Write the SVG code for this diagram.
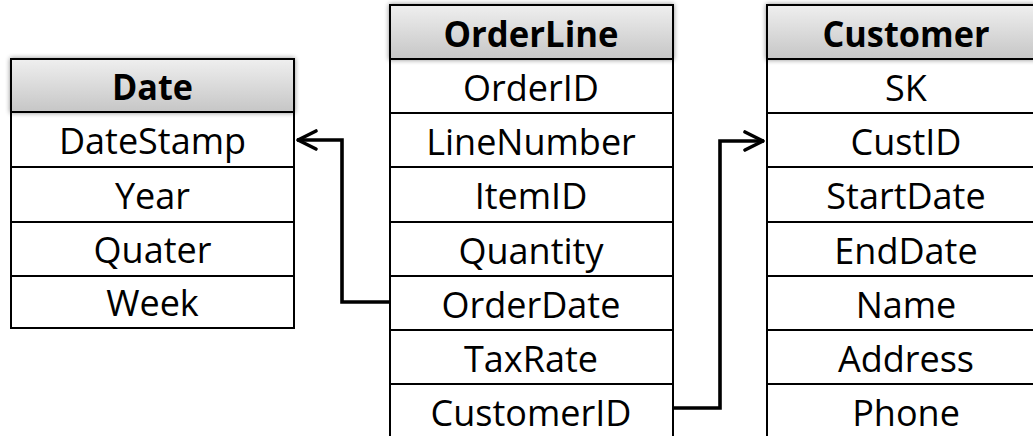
<svg xmlns="http://www.w3.org/2000/svg" width="1033" height="436" viewBox="0 0 1033 436">
  <defs>
    <linearGradient id="hdrFill" x1="0" y1="0" x2="0" y2="1">
      <stop offset="0" stop-color="#efefef"/>
      <stop offset="1" stop-color="#c6c6c6"/>
    </linearGradient>
    <filter id="hdrShadow" x="-10%" y="-20%" width="120%" height="140%">
      <feGaussianBlur in="SourceAlpha" stdDeviation="2.5"/>
      <feComponentTransfer><feFuncA type="linear" slope="0.45"/></feComponentTransfer>
      <feMerge><feMergeNode/><feMergeNode in="SourceGraphic"/></feMerge>
    </filter>
    <marker id="chevron" viewBox="-22 -12 26 24" markerWidth="26" markerHeight="24" refX="1" refY="0" orient="auto" markerUnits="userSpaceOnUse">
      <path d="M -18 -9 L 0 0 L -18 9" fill="none" stroke="#000" stroke-width="3.6" stroke-linecap="round" stroke-linejoin="round"/>
    </marker>
  </defs>
  <style>
    .hdr { fill: url(#hdrFill); stroke: #000; stroke-width: 2; filter: url(#hdrShadow); }
    .body { fill: #fff; stroke: #000; stroke-width: 2; }
    .sep { stroke: #000; stroke-width: 2; }
    .title { font-family: "Open Sans", "DejaVu Sans", sans-serif; font-weight: bold; font-size: 36px; text-anchor: middle; fill: #000; }
    .field { font-family: "Open Sans", "DejaVu Sans", sans-serif; font-size: 36px; text-anchor: middle; fill: #000; }
    .link { fill: none; stroke: #000; stroke-width: 3.6; marker-end: url(#chevron); }
  </style>

  <rect width="1033" height="436" fill="#fff"/>

  <!-- Date dimension -->
  <g id="date">
    <rect class="body" x="11" y="112" width="283" height="216"/>
    <line class="sep" x1="11" y1="167" x2="294" y2="167"/>
    <line class="sep" x1="11" y1="222" x2="294" y2="222"/>
    <line class="sep" x1="11" y1="276" x2="294" y2="276"/>
    <rect class="hdr" x="11" y="59" width="283" height="53"/>
    <text class="title" x="152.5" y="100" textLength="81" lengthAdjust="spacingAndGlyphs">Date</text>
    <text class="field" x="152.5" y="154">DateStamp</text>
    <text class="field" x="152.5" y="209">Year</text>
    <text class="field" x="152.5" y="263">Quater</text>
    <text class="field" x="152.5" y="316">Week</text>
  </g>

  <!-- OrderLine fact -->
  <g id="orderline">
    <rect class="body" x="390" y="59" width="283" height="390"/>
    <line class="sep" x1="390" y1="113" x2="673" y2="113"/>
    <line class="sep" x1="390" y1="167" x2="673" y2="167"/>
    <line class="sep" x1="390" y1="222" x2="673" y2="222"/>
    <line class="sep" x1="390" y1="276" x2="673" y2="276"/>
    <line class="sep" x1="390" y1="330" x2="673" y2="330"/>
    <line class="sep" x1="390" y1="384" x2="673" y2="384"/>
    <rect class="hdr" x="390" y="5" width="283" height="54"/>
    <text class="title" x="531" y="47" textLength="175" lengthAdjust="spacingAndGlyphs">OrderLine</text>
    <text class="field" x="531" y="101">OrderID</text>
    <text class="field" x="531" y="155">LineNumber</text>
    <text class="field" x="531" y="209">ItemID</text>
    <text class="field" x="531" y="264">Quantity</text>
    <text class="field" x="531" y="318">OrderDate</text>
    <text class="field" x="531" y="372">TaxRate</text>
    <text class="field" x="531" y="426">CustomerID</text>
  </g>

  <!-- Customer dimension -->
  <g id="customer">
    <rect class="body" x="767" y="59" width="280" height="390"/>
    <line class="sep" x1="767" y1="113" x2="1047" y2="113"/>
    <line class="sep" x1="767" y1="167" x2="1047" y2="167"/>
    <line class="sep" x1="767" y1="222" x2="1047" y2="222"/>
    <line class="sep" x1="767" y1="276" x2="1047" y2="276"/>
    <line class="sep" x1="767" y1="330" x2="1047" y2="330"/>
    <line class="sep" x1="767" y1="384" x2="1047" y2="384"/>
    <rect class="hdr" x="767" y="5" width="280" height="54"/>
    <text class="title" x="906" y="47" textLength="167" lengthAdjust="spacingAndGlyphs">Customer</text>
    <text class="field" x="906" y="101">SK</text>
    <text class="field" x="906" y="155">CustID</text>
    <text class="field" x="906" y="209">StartDate</text>
    <text class="field" x="906" y="264">EndDate</text>
    <text class="field" x="906" y="318">Name</text>
    <text class="field" x="906" y="372">Address</text>
    <text class="field" x="906" y="426">Phone</text>
  </g>

  <!-- Foreign key references -->
  <g id="connectors">
    <path class="link" d="M 390 302 H 342 V 140 H 297"/>
    <path class="link" d="M 673 408 H 720 V 141 H 764"/>
  </g>
</svg>
